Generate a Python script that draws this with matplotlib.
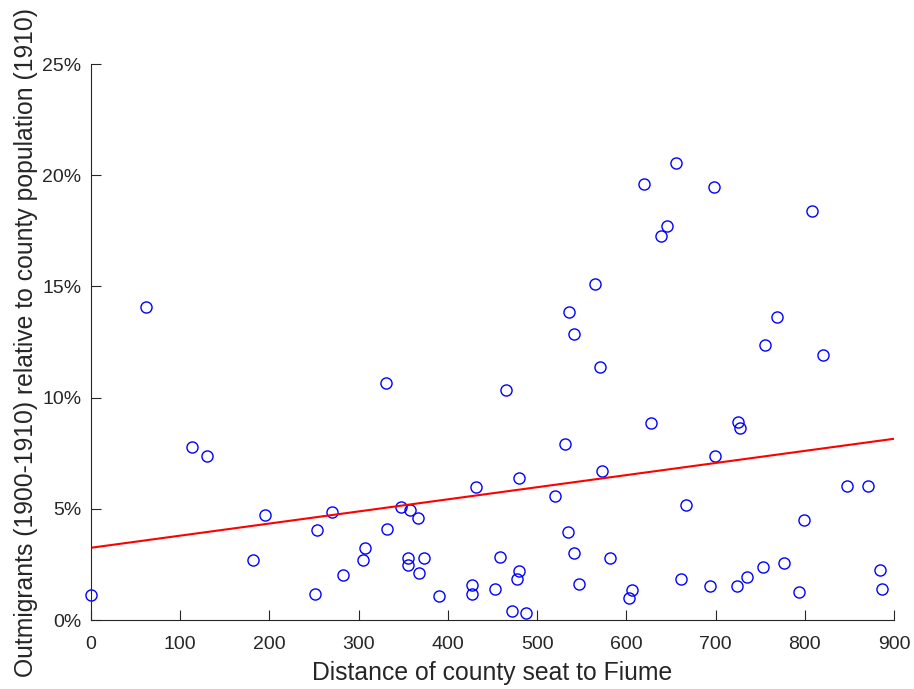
import matplotlib
matplotlib.use('Agg')
import matplotlib.pyplot as plt
from matplotlib.ticker import FuncFormatter

plt.rcParams['font.family'] = ['Liberation Sans', 'DejaVu Sans']

# distance of each county seat to Fiume (km) and outmigration share (%)
distance = [0, 61.3, 113.2, 130, 181.9, 195.3, 250.6, 252.9, 269.6, 282.7,
            304.4, 307.4, 330.2, 332, 347.7, 357.4, 366.7, 355.5, 354.8, 373.1,
            367.5, 389.6, 426.6, 426.6, 431.4, 452.7, 458.3, 465, 471.7, 487,
            479.1, 477.3, 479.6, 519.9, 531.1, 534.5, 541.2, 546.8, 535.2, 541.5,
            565, 570, 572.9, 581.9, 655.8, 620, 698, 807.8, 645, 638.7,
            768.6, 755.9, 820.5, 627.1, 724.6, 727.2, 699.5, 847.4, 870.6, 666.7,
            799.3, 776.8, 753.3, 884, 735, 661, 693.2, 724.1, 886.3, 793.3,
            606.5, 602.8]
outmig = [1.11, 14.09, 7.78, 7.36, 2.68, 4.71, 1.17, 4.06, 4.86, 2.01,
          2.71, 3.25, 10.67, 4.09, 5.08, 4.95, 4.60, 2.79, 2.46, 2.80,
          2.13, 1.09, 1.59, 1.17, 5.98, 1.38, 2.83, 10.33, 0.39, 0.33,
          2.22, 1.86, 6.37, 5.56, 7.93, 3.94, 3.01, 1.60, 13.85, 12.85,
          15.09, 11.39, 6.69, 2.80, 20.56, 19.59, 19.48, 18.41, 17.72, 17.27,
          13.62, 12.37, 11.90, 8.86, 8.90, 8.63, 7.36, 6.01, 6.03, 5.17,
          4.48, 2.55, 2.38, 2.23, 1.95, 1.83, 1.51, 1.51, 1.38, 1.24,
          1.35, 0.99]

# least squares line
fit_x = [0, 900]
fit_y = [3.25, 8.15]

fig = plt.figure(figsize=(9.14, 6.89), dpi=100)
ax = fig.add_axes([0.0996, 0.1001, 0.8786, 0.807])

ax.plot(distance, outmig, 'o', markerfacecolor='none', markeredgecolor='#0000ff',
        markersize=8, markeredgewidth=1.0, linestyle='none', clip_on=False)
ax.plot(fit_x, fit_y, color='#ff0000', linewidth=1.5)

ax.set_xlim(0, 900)
ax.set_ylim(0, 25)
ax.set_xticks(range(0, 1000, 100))
ax.set_yticks(range(0, 30, 5))
ax.yaxis.set_major_formatter(FuncFormatter(lambda v, p: '%d%%' % v))

ax.spines['top'].set_visible(False)
ax.spines['right'].set_visible(False)
for s in ['left', 'bottom']:
    ax.spines[s].set_color('#262626')
    ax.spines[s].set_linewidth(0.8)
ax.tick_params(direction='in', length=7, width=0.8, colors='#262626',
               labelsize=14)
ax.tick_params(axis='x', pad=11.5)
ax.tick_params(axis='y', pad=7)

ax.set_xlabel('Distance of county seat to Fiume', fontsize=17.8,
              color='#262626', labelpad=6)
ax.set_ylabel('Outmigrants (1900-1910) relative to county population (1910)',
              fontsize=17.8, color='#262626', labelpad=3)

plt.savefig('out.png', dpi=100)
